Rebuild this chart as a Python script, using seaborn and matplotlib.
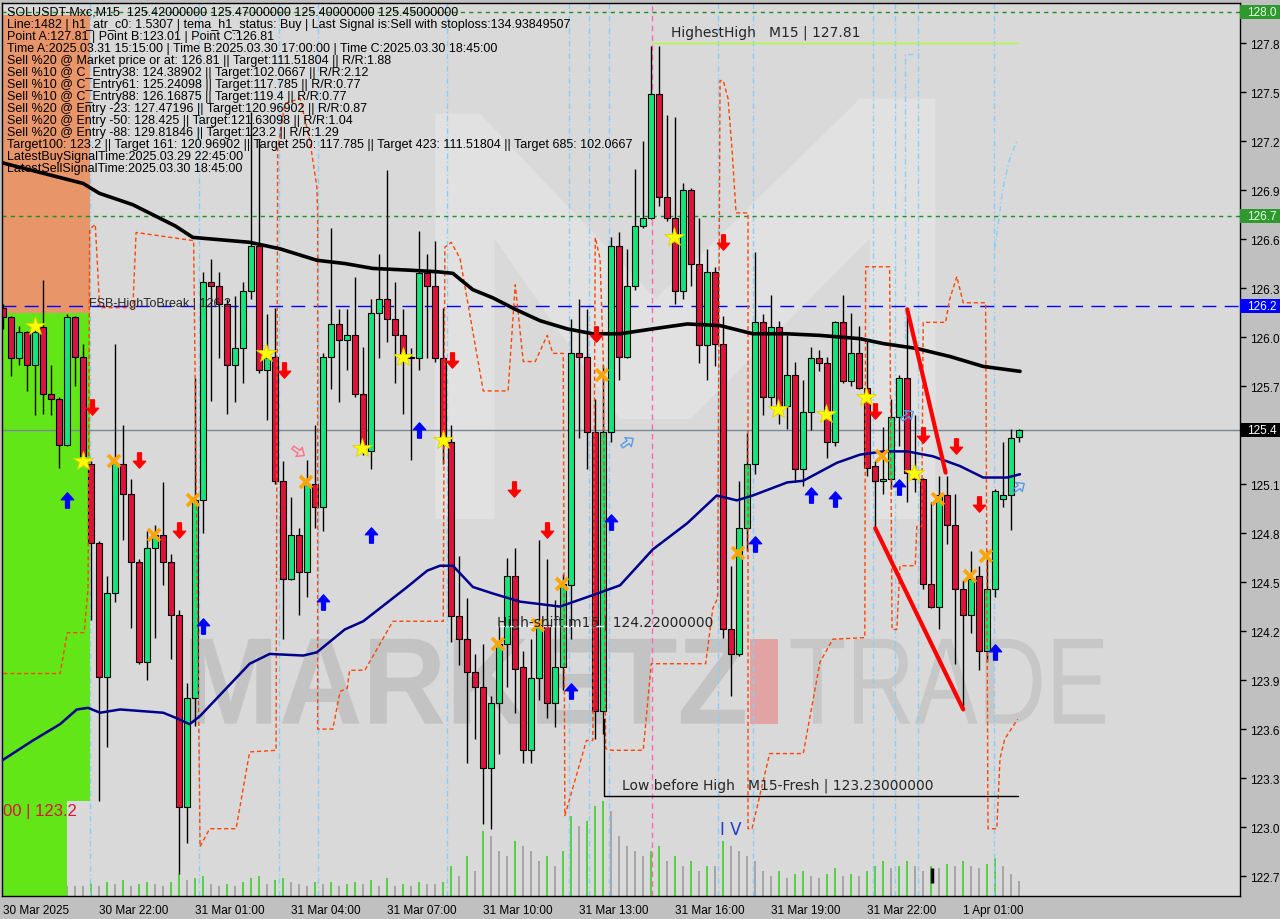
import numpy as np
import pandas as pd
import matplotlib
matplotlib.use("Agg")
import matplotlib.pyplot as plt
import matplotlib.transforms as mtransforms
from matplotlib.path import Path
from matplotlib.patches import Rectangle, Polygon, PathPatch
from matplotlib.textpath import TextPath
from matplotlib.font_manager import FontProperties
from matplotlib.markers import MarkerStyle
import seaborn as sns

sns.set_style("white")
plt.rcParams["font.family"] = ["DejaVu Sans"]

# ---------------- candles (SOLUSDT M15) ----------------
opens = [126.19, 126.13, 125.88, 126.04, 125.84, 126.07, 125.66, 125.63, 125.35, 126.13,
         125.89, 125.23, 124.75, 123.93, 124.44, 125.23, 125.05, 124.63, 124.02, 124.72,
         124.80, 124.63, 124.31, 123.13, 123.80, 125.01, 126.35, 126.32, 126.21, 125.84,
         125.94, 126.29, 126.57, 125.81, 125.89, 125.13, 124.53, 124.80, 124.57, 125.11,
         124.97, 125.89, 126.09, 125.99, 126.02, 125.66, 125.31, 126.16, 126.24, 126.12,
         126.02, 125.88, 125.88, 126.40, 126.32, 125.88, 125.37, 124.30, 124.16, 123.96,
         123.87, 123.37, 123.77, 124.13, 124.55, 123.99, 123.48, 123.92, 124.25, 123.77,
         123.99, 124.49, 125.91, 125.89, 125.43, 123.72, 125.43, 126.57, 125.89, 126.32,
         126.69, 126.74, 127.50, 126.87, 126.74, 126.29, 126.91, 126.46, 125.96, 126.41,
         125.97, 124.22, 124.07, 124.84, 125.23, 126.10, 125.64, 126.07, 125.59, 125.78,
         125.20, 125.55, 125.88, 125.85, 125.37, 126.10, 125.74, 125.91, 125.70, 125.22,
         125.13, 125.14, 125.52, 125.76, 125.19, 125.14, 124.50, 124.36, 125.04, 124.86,
         124.47, 124.31, 124.55, 124.09, 124.47, 125.02, 125.04, 125.40]
highs = [126.21, 126.14, 126.08, 126.05, 126.11, 126.36, 125.84, 125.64, 126.15, 126.14,
         125.97, 125.25, 124.76, 124.55, 125.97, 125.47, 125.14, 124.65, 124.82, 124.86,
         125.12, 124.68, 124.34, 123.89, 125.76, 126.41, 126.49, 126.41, 126.24, 126.26,
         126.35, 127.39, 127.22, 126.15, 126.19, 125.25, 125.03, 124.84, 125.26, 125.47,
         125.91, 126.68, 126.18, 126.18, 126.38, 125.95, 126.24, 126.52, 127.03, 126.35,
         126.18, 125.94, 126.66, 126.52, 126.60, 126.19, 125.47, 124.67, 124.41, 124.07,
         124.13, 123.81, 124.25, 124.66, 124.72, 124.09, 124.16, 124.77, 124.65, 124.40,
         124.56, 126.12, 126.24, 126.18, 125.63, 125.84, 126.62, 126.65, 126.55, 127.04,
         127.21, 127.79, 127.79, 127.37, 127.36, 126.95, 126.92, 126.74, 126.55, 126.44,
         126.14, 124.61, 125.13, 125.42, 126.53, 126.15, 126.27, 126.11, 126.02, 125.86,
         125.75, 125.95, 125.93, 125.89, 126.11, 126.27, 126.16, 126.08, 126.00, 125.25,
         125.46, 125.63, 125.78, 126.19, 125.53, 125.15, 125.00, 125.16, 125.16, 125.05,
         124.52, 124.70, 124.61, 124.70, 125.08, 125.37, 125.45, 125.45]
lows = [126.06, 125.77, 125.84, 125.68, 125.53, 125.54, 125.53, 125.21, 125.34, 125.71,
        125.25, 124.28, 123.17, 123.50, 124.39, 124.77, 124.23, 124.01, 123.91, 124.17,
        124.49, 124.04, 122.72, 122.91, 123.63, 124.81, 125.62, 125.88, 125.54, 125.61,
        125.73, 126.24, 125.79, 125.50, 125.11, 124.16, 124.52, 124.31, 124.42, 124.84,
        124.82, 125.69, 125.61, 125.81, 125.64, 125.29, 125.20, 125.88, 125.98, 125.73,
        125.54, 125.26, 125.81, 125.88, 125.86, 125.23, 124.14, 124.00, 123.40, 123.55,
        123.03, 123.00, 123.46, 123.87, 123.71, 123.40, 123.40, 123.79, 123.68, 123.62,
        123.85, 124.16, 125.39, 125.20, 123.55, 123.58, 125.37, 125.75, 125.88, 126.30,
        126.68, 126.73, 126.81, 126.72, 126.21, 126.24, 126.32, 125.85, 125.75, 125.83,
        124.17, 123.81, 124.06, 124.70, 125.17, 125.53, 125.59, 125.48, 125.45, 125.12,
        125.10, 125.44, 125.80, 125.27, 125.34, 125.73, 125.71, 125.69, 125.16, 124.84,
        125.05, 125.08, 125.34, 125.00, 125.06, 124.47, 124.35, 124.22, 124.74, 124.01,
        123.73, 124.20, 123.97, 124.02, 124.42, 124.97, 124.83, 125.37]
closes = [126.13, 125.88, 126.04, 125.84, 126.04, 125.66, 125.63, 125.35, 126.13, 125.89,
          125.28, 124.75, 123.93, 124.44, 125.24, 125.05, 124.63, 124.02, 124.72, 124.80,
          124.63, 124.31, 123.13, 123.80, 125.01, 126.35, 126.32, 126.21, 125.84, 125.94,
          126.29, 126.57, 125.81, 125.88, 125.13, 124.53, 124.80, 124.57, 125.11, 124.97,
          125.89, 126.09, 125.99, 126.02, 125.66, 125.34, 126.16, 126.24, 126.12, 126.02,
          125.88, 125.89, 126.40, 126.32, 125.88, 125.37, 124.30, 124.16, 123.96, 123.87,
          123.37, 123.77, 124.13, 124.55, 123.98, 123.48, 123.92, 124.25, 123.77, 123.99,
          124.50, 125.91, 125.89, 125.43, 123.72, 125.43, 126.57, 125.89, 126.32, 126.69,
          126.74, 127.50, 126.87, 126.74, 126.29, 126.91, 126.46, 125.96, 126.41, 125.97,
          124.22, 124.07, 124.84, 125.23, 126.10, 125.64, 126.07, 125.57, 125.78, 125.20,
          125.55, 125.88, 125.85, 125.37, 126.10, 125.74, 125.91, 125.70, 125.21, 125.13,
          125.14, 125.52, 125.76, 125.18, 125.14, 124.50, 124.36, 125.04, 124.86, 124.47,
          124.31, 124.53, 124.09, 124.47, 125.07, 125.04, 125.39, 125.44]
volumes = [10, 10, 10, 10, 10, 10, 10, 10, 10, 10, 10,
           12, 10, 14, 12, 16, 10, 12, 14, 12, 10,
           14, 22, 16, 18, 20, 12, 10, 12, 10, 14,
           18, 20, 12, 16, 18, 14, 12, 10, 14, 12,
           14, 10, 12, 14, 12, 16, 10, 18, 10, 12,
           10, 14, 12, 12, 14, 30, 20, 40, 25, 65,
           60, 45, 40, 55, 50, 45, 35, 40, 30, 45,
           80, 70, 75, 90, 95, 85, 60, 50, 45, 40,
           45, 50, 35, 40, 30, 35, 25, 30, 30, 55,
           50, 45, 40, 35, 25, 20, 25, 18, 22, 25,
           20, 18, 22, 28, 20, 22, 20, 25, 30, 35,
           28, 30, 35, 30, 25, 30, 28, 32, 30, 35,
           30, 28, 32, 38, 30, 22, 15]

# ---------------- indicator lines ----------------
ma_slow_idx = [-0.4, 10, 12, 16.2, 21.5, 23.7, 30.8, 34.6, 39.2, 42.7, 46.2, 50.5, 54.2, 56.2,
               58.7, 61.2, 64, 67.1, 70.5, 73.7, 77.1, 81.2, 85.5, 89.6, 93.7, 97.9, 102.1,
               107.1, 110, 114.2, 118.4, 122.5, 127.1]
ma_slow_val = [127.08, 126.95, 126.89, 126.82, 126.69, 126.62, 126.59, 126.55, 126.48, 126.46,
               126.43, 126.42, 126.41, 126.40, 126.30, 126.25, 126.18, 126.11, 126.06, 126.03,
               126.03, 126.06, 126.09, 126.08, 126.03, 126.03, 126.02, 126.00, 125.97, 125.94,
               125.89, 125.83, 125.80]
ma_fast_idx = [-0.4, 3.7, 7.1, 9.2, 10.6, 12.1, 14.6, 20, 21.5, 23.3, 24.6, 30.8, 33.3, 37.5,
               39.2, 42.7, 45, 50.5, 53, 54.6, 56.2, 58.7, 61.2, 64.6, 69.6, 73.7, 77.1, 81.2,
               85.5, 89.2, 91.7, 93.7, 98, 100, 104.2, 107.1, 110, 113, 116.2, 119.6, 122.5,
               125.5, 127.1]
ma_fast_val = [123.41, 123.54, 123.64, 123.73, 123.74, 123.71, 123.73, 123.71, 123.68, 123.64,
               123.69, 124.01, 124.07, 124.06, 124.08, 124.22, 124.27, 124.48, 124.58, 124.61,
               124.61, 124.48, 124.44, 124.39, 124.36, 124.43, 124.49, 124.71, 124.87, 125.04,
               125.01, 125.04, 125.12, 125.13, 125.24, 125.29, 125.31, 125.31, 125.28, 125.22,
               125.15, 125.15, 125.17]
band_idx = [0.0, 7.1, 8.0, 10.1, 10.6, 10.8, 11.5, 12.0, 12.1, 16.2, 16.6, 23.8, 24.6, 25.8,
            29.1, 30.8, 34.1, 34.3, 35.2, 37.1, 38.3, 39.2, 39.3, 39.3, 41.2, 42.1, 43.0, 43.3,
            45.2, 48.7, 55.0, 55.2, 56.0, 57.1, 60.0, 63.1, 64.0, 65.0, 66.5, 68.0, 68.7, 70.0,
            70.2, 72.9, 73.7, 74.0, 74.6, 75.0, 75.3, 76.1, 80.0, 81.0, 87.8, 88.7, 89.3, 89.6,
            90.0, 90.6, 91.1, 91.6, 93.1, 93.1, 93.6, 95.8, 100.0, 102.1, 103.7, 107.7, 107.8,
            110.8, 111.1, 111.7, 112.1, 114.0, 114.2, 114.8, 115.0, 117.8, 118.3, 119.2, 120.0,
            122.8, 123.1, 124.2, 124.6, 125.2, 126.8]
band_val = [123.95, 123.95, 124.20, 124.20, 124.47, 126.67, 126.70, 126.24, 126.19, 126.19,
            126.65, 126.60, 122.89, 123.00, 123.00, 123.47, 123.48, 127.16, 127.44, 127.47,
            127.22, 126.93, 126.76, 123.61, 123.61, 123.84, 123.86, 123.97, 123.97, 124.27,
            124.27, 126.56, 126.59, 126.49, 125.68, 125.68, 126.33, 125.86, 125.86, 126.02,
            125.91, 125.91, 123.08, 123.54, 123.54, 126.62, 126.49, 125.89, 123.49, 123.48,
            123.48, 124.01, 124.01, 124.35, 124.41, 127.58, 127.58, 127.47, 127.16, 126.77,
            126.77, 123.00, 123.00, 123.46, 123.46, 124.02, 124.16, 124.17, 126.44, 126.44,
            124.22, 124.22, 124.61, 124.61, 124.85, 124.85, 126.10, 126.10, 126.24, 126.38,
            126.22, 126.22, 123.00, 123.00, 123.43, 123.55, 123.67]
session_idx = [10.8, 24.5, 34.5, 39.3, 55.5, 70.7, 73.2, 75.7, 89.3, 93.7, 108.7, 111.5, 114.3, 123.8]
pink_idx = 81.1

# ---------------- signals ----------------
stars_idx = [4.0, 10.0, 32.8, 44.8, 50.0, 55.0, 83.8, 96.8, 102.9, 107.8, 113.8]
stars_val = [126.08, 125.25, 125.91, 125.33, 125.89, 125.38, 126.62, 125.57, 125.54, 125.64, 125.18]
cross_idx = [13.8, 18.8, 23.7, 37.8, 61.8, 66.8, 69.8, 74.8, 91.8, 109.8, 116.8, 120.9, 122.8]
cross_val = [125.25, 124.80, 125.01, 125.12, 124.13, 124.25, 124.50, 125.78, 124.69, 125.28,
             125.02, 124.55, 124.67]
sell_idx = [11.1, 17.0, 22.0, 35.1, 56.1, 63.8, 68.0, 74.1, 90.0, 109.0, 115.0, 119.1, 122.0]
sell_val = [125.58, 125.26, 124.83, 125.81, 125.87, 125.08, 124.83, 126.03, 126.59, 125.56,
            125.41, 125.34, 124.99]
buy_idx = [8.0, 25.0, 40.0, 46.0, 52.0, 71.0, 76.0, 94.0, 101.0, 104.0, 112.0, 124.0]
buy_val = [125.01, 124.24, 124.39, 124.80, 125.44, 123.84, 124.88, 124.74, 125.04, 125.02,
           125.09, 124.08]
hollow_sell = (36.8, 125.31)
hollow_buy_idx = [78.0, 113.0, 126.8]
hollow_buy_val = [125.37, 125.53, 125.09]
trend1_idx, trend1_val = [113.0, 117.8], [126.18, 125.18]
trend2_idx, trend2_val = [109.0, 120.0], [124.84, 123.73]

# ---------------- levels ----------------
top_level, mid_level, fsb_level, bid = 128.00, 126.75, 126.20, 125.44
highest_high, hh_from, hh_to = 127.81, 81.1, 126.8
high_shift, hs_from, hs_to = 124.22, 61.7, 75.0
low_before_high, lbh_from, lbh_to, lbh_top = 123.20, 75.1, 126.8, 123.67
supply = dict(x0=-0.5, x1=10.84, y0=126.16, y1=127.98)
demand = dict(x0=-0.5, x1=10.84, y0=123.17, y1=126.16, x1_low=7.96)

ytick_vals = [127.81, 127.51, 127.21, 126.91, 126.61, 126.31, 126.01, 125.71,
              125.11, 124.81, 124.51, 124.21, 123.91, 123.61, 123.31, 123.01, 122.71]
ytick_lbl = ["127.8", "127.5", "127.2", "126.9", "126.6", "126.3", "126.0", "125.7",
             "125.1", "124.8", "124.5", "124.2", "123.9", "123.6", "123.3", "123.0", "122.7"]
tag_lbl = ["128.0", "126.7", "126.2", "125.4"]
xtick_idx = [0, 12, 24, 36, 48, 60, 72, 84, 96, 108, 120]
xtick_lbl = ["30 Mar 2025", "30 Mar 22:00", "31 Mar 01:00", "31 Mar 04:00", "31 Mar 07:00",
             "31 Mar 10:00", "31 Mar 13:00", "31 Mar 16:00", "31 Mar 19:00", "31 Mar 22:00",
             "1 Apr 01:00"]

info_lines = [
    "SOLUSDT-Mxc,M15  125.42000000 125.47000000 125.40000000 125.45000000",
    "Line:1482 | h1_atr_c0: 1.5307 | tema_h1_status: Buy | Last Signal is:Sell with stoploss:134.93849507",
    "Point A:127.81 | Point B:123.01 | Point C:126.81",
    "Time A:2025.03.31 15:15:00 | Time B:2025.03.30 17:00:00 | Time C:2025.03.30 18:45:00",
    "Sell %20 @ Market price or at: 126.81 || Target:111.51804 || R/R:1.88",
    "Sell %10 @ C_Entry38: 124.38902 || Target:102.0667 || R/R:2.12",
    "Sell %10 @ C_Entry61: 125.24098 || Target:117.785 || R/R:0.77",
    "Sell %10 @ C_Entry88: 126.16875 || Target:119.4 || R/R:0.77",
    "Sell %20 @ Entry -23: 127.47196 || Target:120.96902 || R/R:0.87",
    "Sell %20 @ Entry -50: 128.425 || Target:121.63098 || R/R:1.04",
    "Sell %20 @ Entry -88: 129.81846 || Target:123.2 || R/R:1.29",
    "Target100: 123.2 || Target 161: 120.96902 || Target 250: 117.785 || Target 423: 111.51804 || Target 685: 102.0667",
    "LatestBuySignalTime:2025.03.29 22:45:00",
    "LatestSellSignalTime:2025.03.30 18:45:00",
]

# ---------------- figure ----------------
W, H = 1280, 920
fig = plt.figure(figsize=(W / 100, H / 100), dpi=100)
fig.patch.set_facecolor("#c0c0c0")
ax = fig.add_axes([2 / W, 23 / H, 1238 / W, 893 / H])
ax.set_facecolor("#d9d9d9")
ax.set_xlim(-0.16, 154.6)
ax.set_ylim(122.588, 128.055)

# watermark logo
logo = [(0.350, 0.876), (0.386, 0.876), (0.528, 0.669), (0.693, 0.893), (0.754, 0.893),
        (0.754, 0.422), (0.701, 0.422), (0.701, 0.736), (0.556, 0.534), (0.499, 0.534),
        (0.398, 0.736), (0.398, 0.422), (0.350, 0.422)]
ax.add_patch(Polygon(logo, closed=True, transform=ax.transAxes, fc="#e1e1e1", ec="none", zorder=0.2))


def word(txt, box, color, weight):
    fp = FontProperties(family="Liberation Sans", weight=weight)
    tp = TextPath((0, 0), txt, size=1, prop=fp)
    e = tp.get_extents()
    x0, y0, x1, y1 = box
    tr = (mtransforms.Affine2D().translate(-e.x0, -e.y0)
          .scale((x1 - x0) / e.width, (y1 - y0) / e.height).translate(x0, y0))
    ax.add_patch(PathPatch(tr.transform_path(tp), transform=ax.transAxes,
                           fc=color, ec="none", zorder=0.3))


word("MARKETZ", (0.152, 0.193, 0.600, 0.288), "#c3c3c3", "bold")
word("TRADE", (0.637, 0.193, 0.891, 0.288), "#c7c7c7", "normal")
ax.add_patch(Rectangle((0.604, 0.193), 0.023, 0.095, transform=ax.transAxes,
                       fc="#e2a3a3", ec="none", zorder=0.3))

# volumes (height in pixels of the 893px window)
vol = np.array(volumes)
vcol = ["#9c9c9c"] + ["#3ccf2a" if vol[k] > vol[k - 1] else "#9c9c9c" for k in range(1, len(vol))]
ax.vlines(np.arange(len(vol)), 0, vol / 893.0, colors=vcol, lw=1.2,
          transform=ax.get_xaxis_transform(), zorder=0.5)
ax.vlines([116.1], [122.67], [122.76], colors="black", lw=2.5, zorder=0.6)

# zones
ax.add_patch(Rectangle((supply["x0"], supply["y0"]), supply["x1"] - supply["x0"],
                       supply["y1"] - supply["y0"], fc="#e8956a", ec="none", zorder=0.6))
ax.add_patch(Rectangle((demand["x0"], demand["y0"]), demand["x1"] - demand["x0"],
                       demand["y1"] - demand["y0"], fc="#62e618", ec="none", zorder=0.6))
ax.add_patch(Rectangle((demand["x0"], 122.4), demand["x1_low"] - demand["x0"],
                       demand["y0"] - 122.4, fc="#62e618", ec="none", zorder=0.6))

# session / signal vertical lines
for s in session_idx:
    ax.axvline(s, color="#87cefa", lw=1, ls=(0, (4, 2, 1, 2)), zorder=1)
ax.plot([112.7, 112.7, 113.7], [126.00, 127.74, 127.74], color="#87cefa", lw=1, ls=(0, (4, 2, 1, 2)), zorder=1)
ax.plot([123.96, 124.96, 125.8, 126.8], [126.55, 126.92, 127.10, 127.22], color="#87cefa", lw=1,
        ls=(0, (4, 2, 1, 2)), zorder=1)
ax.axvline(pink_idx, color="#ff69b4", lw=1, ls=(0, (4, 3)), zorder=1)

# horizontal levels
ax.axhline(top_level, color="#1f8f1f", lw=1, ls=(0, (3, 3)), zorder=1.2)
ax.axhline(mid_level, color="#1f8f1f", lw=1, ls=(0, (3, 3)), zorder=1.2)
ax.axhline(fsb_level, color="#0000ff", lw=1, ls=(0, (10, 6)), zorder=1.2)
ax.axhline(bid, color="#778899", lw=1, zorder=1.2)

# candles
df = pd.DataFrame({"o": opens, "h": highs, "l": lows, "c": closes})
df["i"] = np.arange(len(df))
up = df["c"] >= df["o"]
ax.vlines(df["i"], df["l"], df["h"], colors="black", lw=1, zorder=2)
ax.bar(df["i"], np.maximum((df["c"] - df["o"]).abs(), 0.006), bottom=np.minimum(df["o"], df["c"]),
       width=0.72, color=np.where(up, "#14e67c", "#dc143c"), edgecolor="black", linewidth=0.8, zorder=2.1)

# indicator lines
sns.lineplot(x=band_idx, y=band_val, estimator=None, sort=False, ax=ax, color="#ff4500",
             lw=1, ls=(0, (3, 2)), zorder=2.5)
sns.lineplot(x=ma_fast_idx, y=ma_fast_val, estimator=None, sort=False, ax=ax, color="#00008b",
             lw=1.8, zorder=3)
sns.lineplot(x=ma_slow_idx, y=ma_slow_val, estimator=None, sort=False, ax=ax, color="black",
             lw=2.6, zorder=3)
ax.plot(trend1_idx, trend1_val, color="#ff0000", lw=3, zorder=3.2, solid_capstyle="round")
ax.plot(trend2_idx, trend2_val, color="#ff0000", lw=3, zorder=3.2, solid_capstyle="round")

ax.plot([hh_from, hh_to], [highest_high, highest_high], color="#adff2f", lw=1, zorder=3)
ax.plot([hs_from, hs_to], [high_shift + 0.02, high_shift + 0.02], color="white", lw=1, zorder=3)
ax.plot([lbh_from, lbh_from, lbh_to], [lbh_top, low_before_high, low_before_high], color="black",
        lw=1, zorder=3)

# markers
arrow = Path([(0, 1), (0.8, 0.1), (0.25, 0.1), (0.25, -1), (-0.25, -1), (-0.25, 0.1), (-0.8, 0.1), (0, 1)],
             [Path.MOVETO] + [Path.LINETO] * 6 + [Path.CLOSEPOLY])
up_m = MarkerStyle(arrow)
down_m = MarkerStyle(arrow, transform=mtransforms.Affine2D().scale(1, -1))
ax.plot(buy_idx, buy_val, ls="none", marker=up_m, ms=11, color="#0000ff", zorder=4)
ax.plot(sell_idx, sell_val, ls="none", marker=down_m, ms=11, color="#ff0000", zorder=4)
ax.plot(stars_idx, stars_val, ls="none", marker="*", ms=15, mfc="#ffff00", mec="#e0d000", mew=0.6, zorder=4)
ax.plot(cross_idx, cross_val, ls="none", marker="x", ms=8, mew=2.6, color="#ffa500", zorder=4)
ax.plot([hollow_sell[0]], [hollow_sell[1]], ls="none",
        marker=MarkerStyle(arrow, transform=mtransforms.Affine2D().rotate_deg(-125)),
        ms=10, mfc="none", mec="#ff6e8a", mew=1, zorder=4)
ax.plot(hollow_buy_idx, hollow_buy_val, ls="none",
        marker=MarkerStyle(arrow, transform=mtransforms.Affine2D().rotate_deg(-55)),
        ms=10, mfc="none", mec="#5a9be6", mew=1, zorder=4)

# chart labels
ax.text(83.5, 127.88, "HighestHigh   M15 | 127.81", fontsize=10, va="center", zorder=5)
ax.text(61.7, 124.27, "High-shift m15 | 124.22000000", fontsize=10, va="center", zorder=5)
ax.text(77.3, 123.27, "Low before High   M15-Fresh | 123.23000000", fontsize=10, va="center", zorder=5)
ax.text(10.7, 126.22, "FSB-HighToBreak | 126.2", fontsize=9, family="Liberation Sans",
        va="center", zorder=5)
ax.text(89.6, 123.00, "I V", fontsize=12, color="#1e3ccd", va="center", zorder=5)
ax.text(-0.05, 123.11, "00 | 123.2", fontsize=12, family="Liberation Sans", color="#dc143c",
        va="center", ha="left", zorder=5)

# info block (top-left)
for k, line in enumerate(info_lines):
    fig.text(7 / W, 1 - (12.7 + 12.05 * k) / H, line, fontsize=9, family="Liberation Sans",
             va="center", ha="left", color="black")

# axes styling
for sp in ax.spines.values():
    sp.set_color("black")
    sp.set_linewidth(1)
ax.yaxis.tick_right()
ax.set_yticks(ytick_vals)
ax.set_yticklabels(ytick_lbl, family="Liberation Sans")
ax.tick_params(axis="y", direction="out", length=4, width=1, pad=3, labelsize=8.5, colors="black")
ax.set_xticks(xtick_idx)
ax.set_xticklabels(xtick_lbl, family="Liberation Sans", ha="left")
ax.tick_params(axis="x", direction="out", length=4, width=1, pad=2, labelsize=8.5, colors="black")
ax.set_xlabel("")
ax.set_ylabel("")
ax.grid(False)

# price labels on the right scale
trans = mtransforms.blended_transform_factory(ax.transAxes, ax.transData)
half = 7.0 * (ax.get_ylim()[1] - ax.get_ylim()[0]) / 893.0
tag_trans = trans + mtransforms.ScaledTranslation(0.07, 0, fig.dpi_scale_trans)
for val, txt, bg, fg in [(top_level, tag_lbl[0], "#2e9a2e", "#eaffea"),
                         (mid_level, tag_lbl[1], "#2e9a2e", "#eaffea"),
                         (fsb_level, tag_lbl[2], "#0000ff", "white"),
                         (bid, tag_lbl[3], "black", "white")]:
    ax.add_patch(Rectangle((1.0, val - half), 0.05, 2 * half, transform=trans, fc=bg, ec="none",
                           clip_on=False, zorder=10))
    ax.text(1.0, val, txt, transform=tag_trans, color=fg, fontsize=8.5, family="Liberation Sans",
            va="center", ha="left", clip_on=False, zorder=11)

fig.savefig("out.png", dpi=100, facecolor=fig.get_facecolor())
